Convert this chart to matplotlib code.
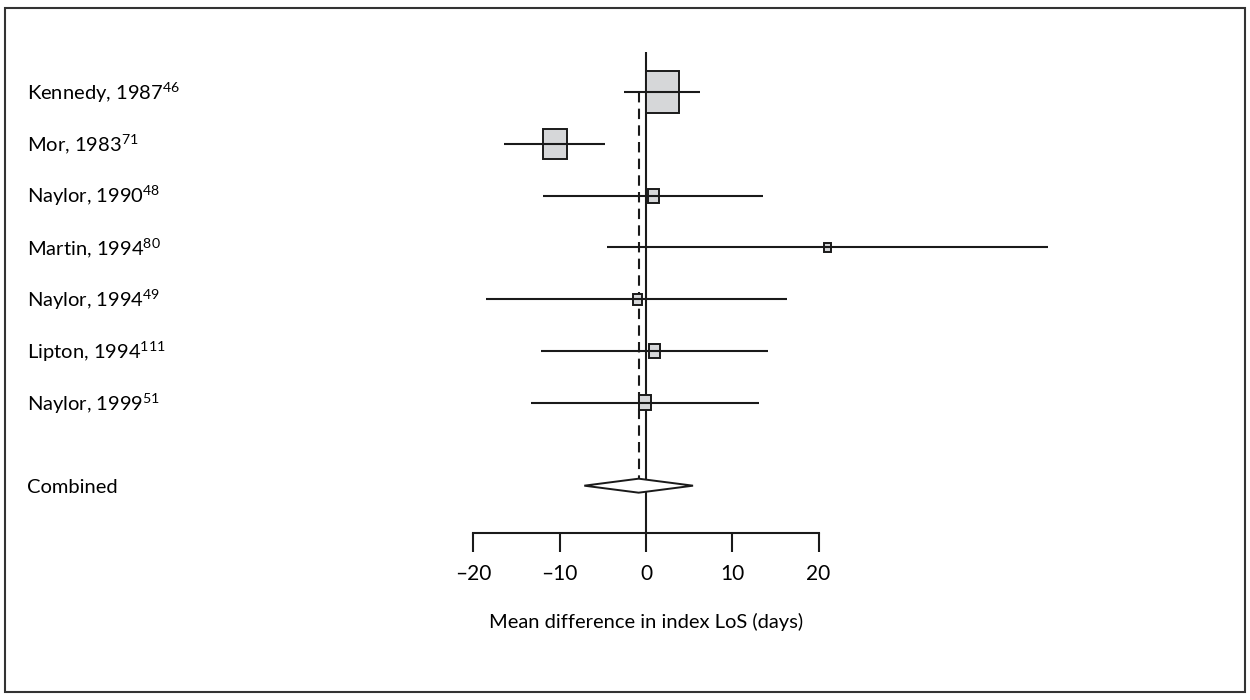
import matplotlib
matplotlib.use("Agg")
import matplotlib.pyplot as plt
from matplotlib import patches, transforms
import numpy as np

plt.rcParams["font.family"] = ["Lato", "DejaVu Sans"]
plt.rcParams["mathtext.fontset"] = "custom"
plt.rcParams["mathtext.rm"] = "Lato"
plt.rcParams["mathtext.it"] = "Lato:italic"

# study-level mean differences in index length of stay (days) with 95% CI
studies = ["Kennedy, 1987", "Mor, 1983", "Naylor, 1990", "Martin, 1994",
           "Naylor, 1994", "Lipton, 1994", "Naylor, 1999"]
refs = ["46", "71", "48", "80", "49", "111", "51"]
means = [1.9, -10.5, 0.9, 21.0, -1.0, 1.0, -0.1]
ci_low = [-2.5, -16.4, -11.9, -4.5, -18.5, -12.2, -13.3]
ci_high = [6.3, -4.8, 13.5, 46.6, 16.3, 14.1, 13.1]
weights = [49.9, 26.4, 5.5, 2.2, 3.7, 5.5, 6.6]   # percent

pooled_mean = -0.85
pooled_low = -7.15
pooled_high = 5.45

x_ticks = [-20, -10, 0, 10, 20]

# layout in pixels (figure is 1250 x 700)
W, H = 1250, 700
x0_px, px_per_day = 646.0, 8.63
row0_px, row_px = 92.0, 51.8

fig = plt.figure(figsize=(W / 100, H / 100), dpi=100)
ax = fig.add_axes([0, 0, 1, 1])
ax.set_xlim(-x0_px / px_per_day, (W - x0_px) / px_per_day)
ax.set_ylim((H - row0_px) / row_px, -row0_px / row_px)

rows = np.arange(len(studies))
pooled_row = rows[-1] + 1.6
axis_row = (533 - row0_px) / row_px

# boxes sized by study weight (half-width in days, full height in rows)
box_w = 0.27 * np.sqrt(weights)
box_h = 2 * box_w * px_per_day * 1.27 / row_px
for r, m, bw, bh in zip(rows, means, box_w, box_h):
    ax.add_patch(patches.Rectangle((m - bw, r - bh / 2), 2 * bw, bh,
                                   facecolor="#d6d7d9", edgecolor="#1a1a1a",
                                   lw=1.4, zorder=2))
ax.hlines(rows, ci_low, ci_high, color="#1a1a1a", lw=1.5, zorder=3)

# pooled estimate
dh = 7 / row_px
diamond = [(pooled_low, pooled_row), (pooled_mean, pooled_row - dh),
           (pooled_high, pooled_row), (pooled_mean, pooled_row + dh)]
ax.add_patch(patches.Polygon(diamond, closed=True, facecolor="white",
                             edgecolor="#1a1a1a", lw=1.4, zorder=3))

# line of no effect and pooled reference line
ax.vlines(0, (52 - row0_px) / row_px, axis_row, color="#1a1a1a", lw=1.5, zorder=1)
ax.vlines(pooled_mean, rows[0], pooled_row, color="#1a1a1a", lw=1.5,
          linestyles=(0, (5, 3)), zorder=1)

# x axis
for side in ["top", "right", "left"]:
    ax.spines[side].set_visible(False)
ax.spines["bottom"].set_position(("data", axis_row))
ax.spines["bottom"].set_bounds(x_ticks[0], x_ticks[-1])
ax.spines["bottom"].set_linewidth(1.5)
ax.spines["bottom"].set_color("#1a1a1a")
ax.set_xticks(x_ticks)
ax.set_xticklabels([f"{t}".replace("-", "\u2013") for t in x_ticks])
ax.tick_params(axis="x", direction="out", length=14, width=1.5,
               color="#1a1a1a", labelsize=15, pad=8)
ax.set_yticks([])
ax.set_xlabel("Mean difference in index LoS (days)", fontsize=14.5)
ax.xaxis.set_label_coords(x0_px / W, 1 - 622 / H)
ax.xaxis.label.set_va("center")

# study labels
text_tr = transforms.blended_transform_factory(fig.transFigure, ax.transData)
shift = transforms.ScaledTranslation(0, -7.5 / 100, fig.dpi_scale_trans)
for r, name, ref in zip(rows, studies, refs):
    ax.text(27 / W, r, name + r"$^{\mathrm{" + ref + "}}$", transform=text_tr + shift,
            ha="left", va="baseline", fontsize=14.5)
ax.text(27 / W, pooled_row, "Combined", transform=text_tr + shift,
        ha="left", va="baseline", fontsize=14.5)

# frame
fig.add_artist(patches.Rectangle((4.5 / W, 1 - 692 / H), 1240 / W, 684 / H,
                                 transform=fig.transFigure, fill=False,
                                 edgecolor="#333333", lw=1.5))

fig.savefig("out.png", dpi=100)
